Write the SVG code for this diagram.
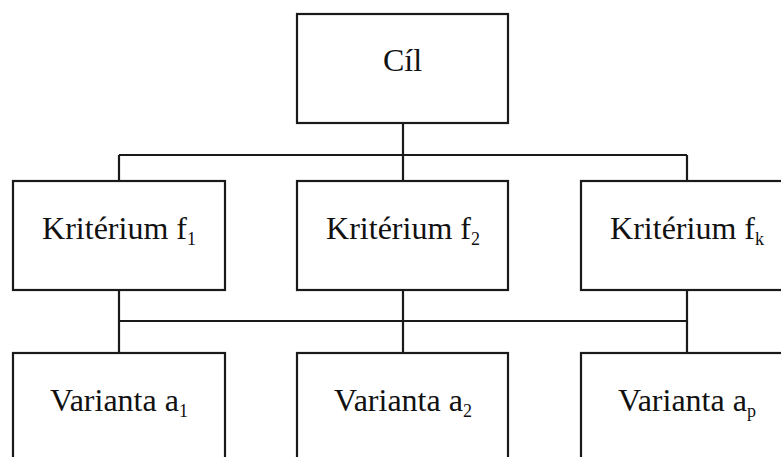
<svg xmlns="http://www.w3.org/2000/svg" width="781" height="457" viewBox="0 0 781 457">
<style>
.box{fill:#fff;stroke:#1a1a1a;stroke-width:2.2}
.ln{fill:none;stroke:#1a1a1a;stroke-width:2.2}
text{font-family:"Liberation Serif","Times New Roman",serif;font-size:32px;fill:#111;text-anchor:middle}
.sub{font-size:18px}
</style>
<rect width="781" height="457" fill="#fff"/>
<g id="connectors">
<path class="ln" d="M403 123V181M119 155H687M119 155V181M687 155V181"/>
<path class="ln" d="M119 290V353M403 290V353M687 290V353M119 321H687"/>
</g>
<g id="cil"><rect class="box" x="297" y="14" width="211" height="109"/><text x="402.5" y="71">Cíl</text></g>
<g id="f1"><rect class="box" x="13" y="181" width="212" height="109"/><text x="119" y="239">Kritérium f<tspan class="sub" dy="6">1</tspan></text></g>
<g id="f2"><rect class="box" x="297" y="181" width="211" height="109"/><text x="403" y="239">Kritérium f<tspan class="sub" dy="6">2</tspan></text></g>
<g id="fk"><rect class="box" x="581" y="181" width="212" height="109"/><text x="687" y="239">Kritérium f<tspan class="sub" dy="6">k</tspan></text></g>
<g id="a1"><rect class="box" x="13" y="353" width="212" height="130"/><text x="119" y="411">Varianta a<tspan class="sub" dy="6">1</tspan></text></g>
<g id="a2"><rect class="box" x="297" y="353" width="211" height="130"/><text x="403" y="411">Varianta a<tspan class="sub" dy="6">2</tspan></text></g>
<g id="ap"><rect class="box" x="581" y="353" width="212" height="130"/><text x="687" y="411">Varianta a<tspan class="sub" dy="6">p</tspan></text></g>
</svg>
